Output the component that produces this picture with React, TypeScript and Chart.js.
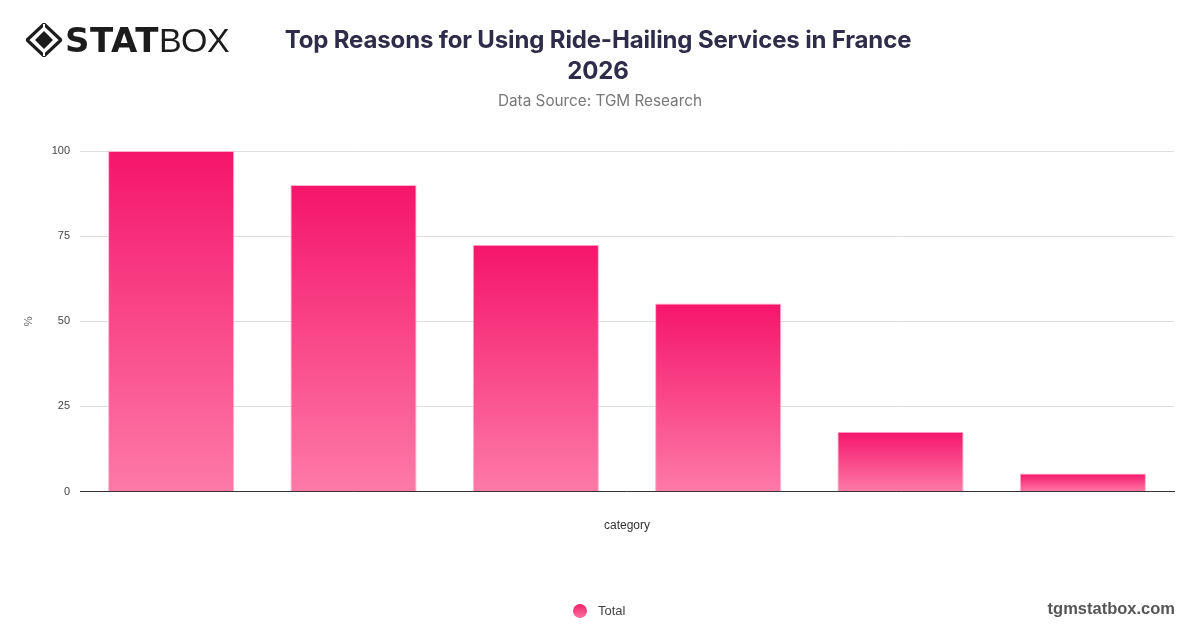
import React, { useEffect, useRef } from "react";
import { Chart, registerables } from "chart.js";

Chart.register(...registerables);

const categories = ["Reason 1", "Reason 2", "Reason 3", "Reason 4", "Reason 5", "Reason 6"];
const totalValues = [100, 90, 72.5, 55.2, 17.6, 5.3];
const yTicks = [0, 25, 50, 75, 100];
const seriesName = "Total";

const TITLE_LINE1 = "Top Reasons for Using Ride-Hailing Services in France";
const TITLE_LINE2 = "2026";
const SUBTITLE = "Data Source: TGM Research";

function Logo() {
  return (
    <div style={{ position: "absolute", left: 26, top: 22, display: "flex", alignItems: "center", height: 36 }}>
      <svg width="36" height="34" viewBox="0 0 36 34" style={{ marginRight: 3 }}>
        <polygon points="18,1 35,17 18,33 1,17" fill="none" stroke="#1c1c1c" strokeWidth="3.2" />
        <polygon points="18,8 27,17 18,26 9,17" fill="#1c1c1c" />
        <line x1="18" y1="1" x2="18" y2="8" stroke="#fff" strokeWidth="2" />
        <line x1="18" y1="26" x2="18" y2="33" stroke="#fff" strokeWidth="2" />
      </svg>
      <span style={{ fontFamily: "'DejaVu Sans', sans-serif", fontWeight: 900, fontSize: 34, letterSpacing: 0.5, color: "#1c1c1c", lineHeight: "36px" }}>STAT</span>
      <span style={{ fontFamily: "'Liberation Sans', sans-serif", fontWeight: 400, fontSize: 34, letterSpacing: -0.5, color: "#1c1c1c", lineHeight: "36px", marginLeft: 0 }}>BOX</span>
    </div>
  );
}

export default function App() {
  const canvasRef = useRef<HTMLCanvasElement | null>(null);

  useEffect(() => {
    if (!canvasRef.current) return;
    const chart = new Chart(canvasRef.current, {
      type: "bar",
      data: {
        labels: categories,
        datasets: [
          {
            label: seriesName,
            data: totalValues,
            backgroundColor: (ctx: any) => {
              const c = ctx.chart;
              if (!c.chartArea || !c.scales || !c.scales.y) return "#f5286f";
              const v = typeof ctx.raw === "number" ? ctx.raw : null;
              if (v === null) return "#f5286f";
              const ys = c.scales.y;
              const top = ys.getPixelForValue(v);
              const bottom = ys.getPixelForValue(0);
              if (!isFinite(top) || !isFinite(bottom) || top === bottom) return "#f5286f";
              const g = c.ctx.createLinearGradient(0, top, 0, bottom);
              g.addColorStop(0, "#f5156a");
              g.addColorStop(1, "#fd7aa7");
              return g;
            },
            borderColor: "rgba(255,170,200,0.9)",
            borderWidth: 1,
            categoryPercentage: 0.8,
            barPercentage: 0.865,
          },
        ],
      },
      options: {
        animation: false,
        responsive: true,
        maintainAspectRatio: false,
        layout: { padding: { top: 151, right: 26, left: 0, bottom: 34 } },
        plugins: {
          title: { display: false },
          tooltip: { enabled: false },
          legend: { display: false },
        },
        scales: {
          x: {
            grid: { display: false, drawTicks: false },
            border: { display: true, color: "#333", width: 1 },
            ticks: { display: false },
            title: {
              display: true,
              text: "category",
              color: "#333",
              font: { family: "'Liberation Sans', Arial, sans-serif", size: 12 },
              padding: { top: 27, bottom: 61 },
            },
          },
          y: {
            min: 0,
            max: 100,
            afterBuildTicks: (scale: any) => {
              scale.ticks = yTicks.map((v) => ({ value: v }));
            },
            afterFit: (scale: any) => {
              scale.width = 80;
            },
            grid: { color: "#dedede", drawTicks: false, lineWidth: 1 },
            border: { display: false },
            ticks: {
              padding: 10,
              color: "#444",
              font: { family: "'Liberation Sans', Arial, sans-serif", size: 11 },
            },
            title: {
              display: true,
              text: "%",
              color: "#666",
              font: { family: "'Liberation Sans', Arial, sans-serif", size: 11 },
              padding: { top: 22, bottom: 0 },
            },
          },
        },
      },
    });
    return () => chart.destroy();
  }, []);

  return (
    <div style={{ position: "absolute", left: 0, top: 0, width: 1200, height: 628, background: "#fff", overflow: "hidden" }}>
      <div style={{ position: "absolute", left: 0, top: 0, width: 1200, height: 628 }}>
        <canvas ref={canvasRef} />
      </div>
      <Logo />
      <div
        style={{
          position: "absolute",
          left: 0,
          width: 1196,
          top: 24,
          textAlign: "center",
          fontFamily: "Inter, 'Noto Sans', sans-serif",
          fontWeight: 700,
          fontSize: 24,
          lineHeight: "31px",
          color: "#2e2c48",
          letterSpacing: -0.15,
        }}
      >
        <div>{TITLE_LINE1}</div>
        <div>{TITLE_LINE2}</div>
      </div>
      <div
        style={{
          position: "absolute",
          left: 0,
          width: 1200,
          top: 90,
          textAlign: "center",
          fontFamily: "Inter, 'Noto Sans', sans-serif",
          fontWeight: 400,
          fontSize: 15.3,
          lineHeight: "22px",
          color: "#777",
        }}
      >
        {SUBTITLE}
      </div>
      <div
        style={{
          position: "absolute",
          left: 573,
          top: 601,
          display: "flex",
          alignItems: "center",
          height: 20,
        }}
      >
        <div
          style={{
            width: 14,
            height: 14,
            borderRadius: "50%",
            background: "linear-gradient(#f0226a, #fd6f9f)",
          }}
        />
        <span
          style={{
            marginLeft: 11,
            fontFamily: "'Liberation Sans', Arial, sans-serif",
            fontSize: 13,
            color: "#444",
            lineHeight: "20px",
          }}
        >
          {seriesName}
        </span>
      </div>
      <div
        style={{
          position: "absolute",
          right: 25,
          top: 597,
          fontFamily: "'Liberation Sans', Arial, sans-serif",
          fontWeight: 700,
          fontSize: 16.5,
          lineHeight: "22px",
          color: "#555",
        }}
      >
        tgmstatbox.com
      </div>
    </div>
  );
}
